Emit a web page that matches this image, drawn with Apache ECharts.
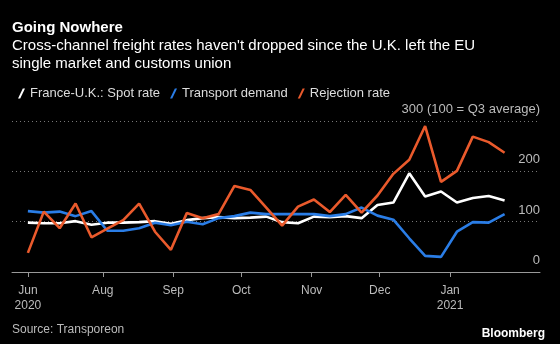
<!DOCTYPE html>
<html>
<head>
<meta charset="utf-8">
<script src="https://cdn.jsdelivr.net/npm/echarts@6/dist/echarts.min.js"></script>
<style>
  html, body { margin: 0; padding: 0; background: #000; }
  #chart { width: 560px; height: 344px; }
</style>
</head>
<body>
<div id="chart"></div>
<script>
// Weekly observations, index 100 = Q3 2020 average
const weeks = ['2020-06-29','2020-07-06','2020-07-13','2020-07-20','2020-07-27',
  '2020-08-03','2020-08-10','2020-08-17','2020-08-24','2020-08-31',
  '2020-09-07','2020-09-14','2020-09-21','2020-09-28','2020-10-05',
  '2020-10-12','2020-10-19','2020-10-26','2020-11-02','2020-11-09',
  '2020-11-16','2020-11-23','2020-11-30','2020-12-07','2020-12-14',
  '2020-12-21','2020-12-28','2021-01-04','2021-01-11','2021-01-18','2021-01-25'];

const spotRate = [98, 97, 97, 101, 94, 98, 98, 99, 101, 96,
  103, 107, 109, 107, 108, 110, 99, 97, 110, 109,
  111, 107, 133, 138, 196, 150, 160, 138, 147, 151, 142];

const transportDemand = [121, 118, 120, 111, 121, 82, 82, 87, 98, 93,
  100, 95, 107, 111, 118, 115, 115, 115, 115, 111,
  115, 128, 112, 104, 67, 32, 30, 80, 99, 98, 115];

const rejectionRate = [38, 120, 87, 136, 69, 86, 103, 136, 80, 44,
  117, 107, 115, 171, 163, 128, 92, 130, 144, 119,
  153, 118, 152, 195, 223, 290, 179, 201, 269, 258, 237];

const tickDates = ['2020-06-29','2020-08-01','2020-09-01','2020-10-01','2020-11-01','2020-12-01','2021-01-01'];
const tickLabels = ['Jun\n2020','Aug','Sep','Oct','Nov','Dec','Jan\n2021'];

const seriesNames = ['France-U.K.: Spot rate', 'Transport demand', 'Rejection rate'];
const seriesColors = ['#ffffff', '#2a7de6', '#ea5a2c'];

const FONT = 'Liberation Sans, Arial, sans-serif';

function dayNum(s) {
  const p = s.split('-').map(Number);
  return Date.UTC(p[0], p[1] - 1, p[2]) / 86400000;
}

const tickDays = tickDates.map(dayNum);
const labelByDay = {};
tickDays.forEach((d, i) => { labelByDay[d] = tickLabels[i]; });

function pairs(values) {
  return weeks.map((w, i) => [dayNum(w), values[i]]);
}

const chart = echarts.init(document.getElementById('chart'), null, { renderer: 'canvas' });

// short slanted stroke used as the legend marker
const slash = 'path://M0,10 L2.2,10 L7,0 L4.8,0 Z';

chart.setOption({
  backgroundColor: '#000',
  animation: false,
  title: [
    {
      text: 'Going Nowhere',
      subtext: 'Cross-channel freight rates haven\'t dropped since the U.K. left the EU\nsingle market and customs union',
      left: 7, top: 15, itemGap: 2,
      textStyle: { color: '#fff', fontSize: 15, fontWeight: 'bold', fontFamily: FONT },
      subtextStyle: { color: '#fff', fontSize: 15, lineHeight: 18, fontFamily: FONT }
    },
    {
      text: 'Source: Transporeon',
      left: 7, top: 319,
      textStyle: { color: '#bbb', fontSize: 12, fontWeight: 'normal', fontFamily: FONT }
    },
    {
      text: 'Bloomberg',
      right: 10, top: 323,
      textStyle: { color: '#fff', fontSize: 12, fontWeight: 'bold', fontFamily: FONT }
    }
  ],
  legend: {
    left: 13, top: 82,
    itemWidth: 7, itemHeight: 10, itemGap: 10,
    icon: slash,
    data: seriesNames,
    textStyle: { color: '#ddd', fontSize: 13, fontFamily: FONT, padding: [0, 0, 0, 0] }
  },
  grid: { left: 12, right: 20, top: 121, bottom: 72 },
  xAxis: {
    type: 'value',
    min: dayNum('2020-06-22'),
    max: dayNum('2020-06-29') + 225.6,
    axisLine: { show: true, onZero: false, lineStyle: { color: '#999', width: 1 } },
    axisTick: { show: true, customValues: tickDays, length: 5, lineStyle: { color: '#999' } },
    axisLabel: {
      customValues: tickDays,
      color: '#bbb', fontSize: 12, fontFamily: FONT, lineHeight: 15, margin: 11,
      formatter: v => labelByDay[v] || ''
    },
    splitLine: { show: false }
  },
  yAxis: {
    type: 'value',
    position: 'right',
    min: 0, max: 300, interval: 100,
    axisLine: { show: false },
    axisTick: { show: false },
    axisLabel: {
      inside: true, margin: 0,
      verticalAlign: 'bottom',
      padding: [0, 0, 5, 0],
      color: '#bbb', fontSize: 13, fontFamily: FONT,
      formatter: v => v === 300 ? '300 (100 = Q3 average)' : String(v)
    },
    splitLine: { show: true, lineStyle: { color: '#777', type: [1, 3], width: 1 } }
  },
  series: [spotRate, transportDemand, rejectionRate].map((vals, i) => ({
    name: seriesNames[i],
    type: 'line',
    data: pairs(vals),
    showSymbol: false,
    symbol: 'none',
    color: seriesColors[i],
    lineStyle: { color: seriesColors[i], width: 2.6 },
    z: 2 + i
  }))
});
</script>
</body>
</html>
